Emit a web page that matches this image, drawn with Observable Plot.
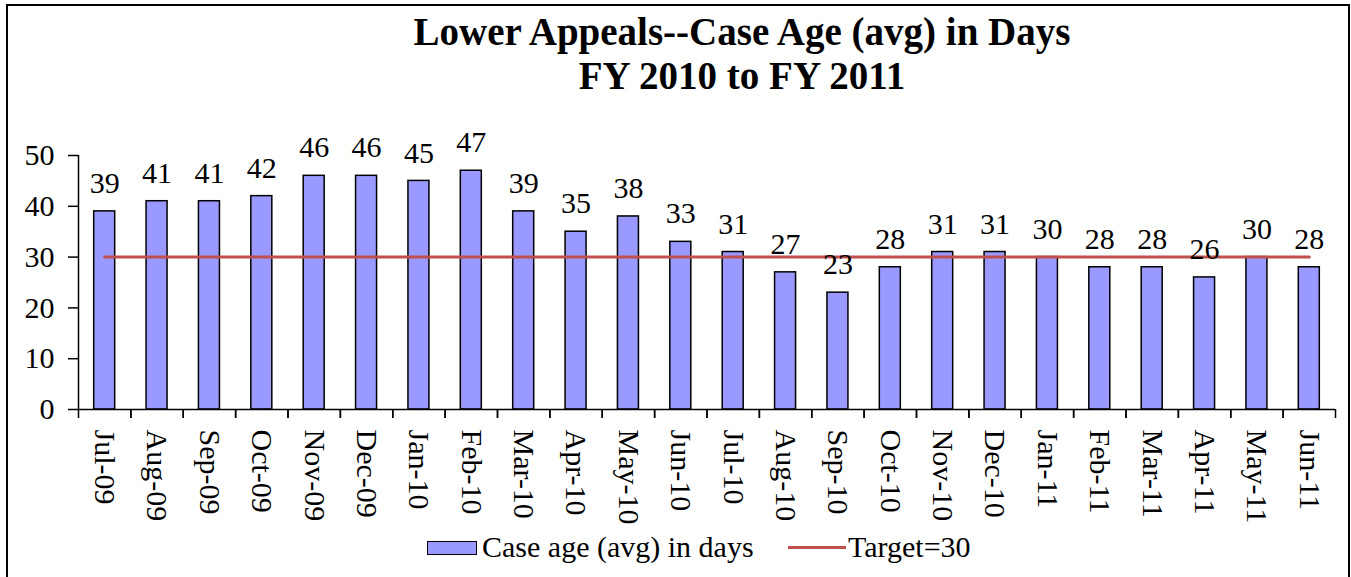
<!DOCTYPE html>
<html>
<head>
<meta charset="utf-8">
<script src="https://cdn.jsdelivr.net/npm/d3@7"></script>
<script src="https://cdn.jsdelivr.net/npm/@observablehq/plot@0.6"></script>
<style>
  html, body { margin: 0; padding: 0; background: #fff; width: 1351px; height: 577px; overflow: hidden; }
  body { position: relative; font-family: "Liberation Serif", "Times New Roman", serif; color: #000; }
  #border { position: absolute; left: 6px; top: 4px; width: 1344px; height: 620px; border: 2px solid #000; box-sizing: border-box; }
  #title { position: absolute; left: 142px; width: 1200px; top: 10px; text-align: center; font-weight: bold; font-size: 39px; line-height: 44px; }
  #chart { position: absolute; left: 0; top: 120px; }
  #chart svg, #chart svg text, #chart svg g { font-family: "Liberation Serif", "Times New Roman", serif !important; }
  .leg { position: absolute; font-size: 30px; line-height: 34px; top: 530px; white-space: nowrap; }
  #swatch { position: absolute; left: 427px; top: 541px; width: 50px; height: 14px; background: #9999FF; border: 1.5px solid #000; box-sizing: border-box; }
  #legline { position: absolute; left: 788px; top: 546px; width: 58px; height: 3px; background: #C0504D; }
</style>
</head>
<body>
<div id="border"></div>
<div id="title">Lower Appeals--Case Age (avg) in Days<br>FY 2010 to FY 2011</div>
<div id="chart"></div>
<div id="swatch"></div>
<div class="leg" style="left:482px">Case age (avg) in days</div>
<div id="legline"></div>
<div class="leg" style="left:848px">Target=30</div>
<script>
const months = ["Jul-09","Aug-09","Sep-09","Oct-09","Nov-09","Dec-09","Jan-10","Feb-10","Mar-10","Apr-10","May-10","Jun-10",
                "Jul-10","Aug-10","Sep-10","Oct-10","Nov-10","Dec-10","Jan-11","Feb-11","Mar-11","Apr-11","May-11","Jun-11"];
const caseAge = [39,41,41,42,46,46,45,47,39,35,38,33,31,27,23,28,31,31,30,28,28,26,30,28];
const target = 30;
const yTicks = [0,10,20,30,40,50];

const data = months.map((m, i) => ({month: m, value: caseAge[i], target}));

const W = 1351, H = 457, ML = 78, MR = 16, MT = 35, MB = 168;
const bw = (W - ML - MR) / months.length;
const inset = (bw - 21) / 2;

const chart = Plot.plot({
  width: W, height: H,
  marginLeft: ML, marginRight: MR, marginTop: MT, marginBottom: MB,
  style: {fontFamily: "Liberation Serif, Times New Roman, serif", fontSize: "30px", color: "#000", background: "transparent", overflow: "visible"},
  x: {type: "band", domain: months, padding: 0, round: false},
  y: {domain: [0, 50]},
  marks: [
    Plot.barY(data, {x: "month", y: "value", fill: "#9999FF", stroke: "#000", strokeWidth: 1.5, insetLeft: inset, insetRight: inset}),
    Plot.lineY(data, {x: "month", y: "target", stroke: "#C0504D", strokeWidth: 3}),
    Plot.text(data, {x: "month", y: "value", text: d => String(d.value), dy: -28, fontSize: 30, fill: "#000"}),
    Plot.ruleY([0], {stroke: "#000", strokeWidth: 1.5}),
    Plot.ruleX([months[0]], {dx: -bw / 2, y1: 0, y2: 50, stroke: "#000", strokeWidth: 1.5}),
    Plot.axisY({ticks: yTicks, tickSize: 10, tickPadding: 14, tickFormat: d => String(d), label: null, fontSize: 30, strokeWidth: 1.5}),
    Plot.axisX({tickSize: 9, tickFormat: () => "", dx: -bw / 2, label: null, strokeWidth: 1.5}),
    Plot.axisX({tickSize: 9, tickFormat: () => "", dx: bw / 2, label: null, strokeWidth: 1.5}),
    Plot.axisX({tickSize: 0, tickPadding: 20, tickRotate: 90, label: null, fontSize: 30})
  ]
});
document.getElementById("chart").appendChild(chart);
</script>
</body>
</html>
